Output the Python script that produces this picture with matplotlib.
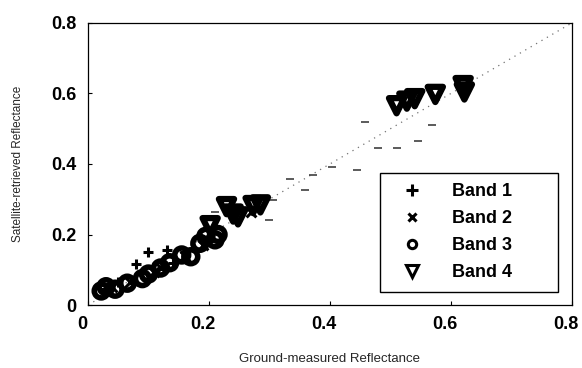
import matplotlib
matplotlib.use("Agg")
import matplotlib.pyplot as plt
import matplotlib.transforms as mtransforms
from matplotlib.lines import Line2D

# Band 1 (+)
b1_ground = [0.03, 0.05, 0.08, 0.10, 0.13, 0.14, 0.16]
b1_sat = [0.045, 0.065, 0.115, 0.150, 0.155, 0.120, 0.150]
# Band 2 (x)
b2_ground = [0.04, 0.07, 0.11, 0.12, 0.16, 0.19, 0.27]
b2_sat = [0.050, 0.065, 0.095, 0.105, 0.140, 0.170, 0.265]
# Band 3 (o)
b3_ground = [0.022, 0.030, 0.045, 0.065, 0.090, 0.100, 0.120, 0.135,
             0.155, 0.170, 0.185, 0.195, 0.210, 0.215]
b3_sat = [0.040, 0.052, 0.045, 0.062, 0.075, 0.088, 0.105, 0.120,
          0.142, 0.137, 0.175, 0.195, 0.185, 0.200]
# Band 4 (triangles)
b4_ground = [0.202, 0.229, 0.240, 0.248, 0.273, 0.285, 0.510, 0.527,
             0.540, 0.574, 0.620, 0.622]
b4_sat = [0.225, 0.279, 0.258, 0.250, 0.282, 0.284, 0.565, 0.578,
          0.585, 0.597, 0.622, 0.604]
# faded (poorly reproduced) points
faded_ground = [0.21, 0.30, 0.306, 0.334, 0.359, 0.372, 0.403, 0.444,
                0.458, 0.48, 0.51, 0.546, 0.568]
faded_sat = [0.265, 0.241, 0.298, 0.357, 0.326, 0.369, 0.390, 0.383,
             0.520, 0.444, 0.444, 0.466, 0.510]

band_names = ["Band 1", "Band 2", "Band 3", "Band 4"]
ticks = [0, 0.2, 0.4, 0.6, 0.8]
tick_labels = ["0", "0.2", "0.4", "0.6", "0.8"]

fig = plt.figure(figsize=(5.82, 3.68), dpi=100)
ax = fig.add_axes([0.151, 0.171, 0.832, 0.767])

# 1:1 line
ax.plot([0, 0.8], [0, 0.8], linestyle=(0, (1, 4)), color="0.45", lw=0.9, zorder=1)

ax.scatter(faded_ground, faded_sat, marker="_", s=40, color="0.25",
           linewidths=1.2, zorder=2)
ax.scatter(b1_ground, b1_sat, marker="+", s=60, color="black",
           linewidths=2.2, zorder=3)
ax.scatter(b2_ground, b2_sat, marker="x", s=50, color="black",
           linewidths=2.2, zorder=3)
ax.scatter(b3_ground, b3_sat, marker="o", s=100, facecolors="none",
           edgecolors="black", linewidths=4, zorder=3)
ax.scatter(b4_ground, b4_sat, marker="v", s=120, facecolors="none",
           edgecolors="black", linewidths=4.5, zorder=3)

ax.set_xlim(0, 0.8)
ax.set_ylim(0, 0.8)
ax.set_xticks(ticks)
ax.set_xticklabels(tick_labels)
ax.set_yticks(ticks)
ax.set_yticklabels(tick_labels)
ax.tick_params(direction="in", length=3, width=0.8, labelsize=13)
ax.tick_params(axis="x", pad=8)
ax.tick_params(axis="y", pad=8)
shift = mtransforms.ScaledTranslation(-6 / 100, 0, fig.dpi_scale_trans)
for lab in ax.get_xticklabels():
    lab.set_transform(lab.get_transform() + shift)
for lab in ax.get_xticklabels() + ax.get_yticklabels():
    lab.set_fontweight("bold")
    lab.set_family("Liberation Sans")
for sp in ax.spines.values():
    sp.set_linewidth(0.9)

ax.set_xlabel("Ground-measured Reflectance", fontsize=9.5, family="Liberation Sans",
              color="0.15", labelpad=14)
ax.set_ylabel("Satellite-retrieved Reflectance", fontsize=8.5, family="Liberation Sans",
              color="0.15", labelpad=20)

handles = [
    Line2D([], [], ls="none", marker="+", ms=9, mew=2.2, color="black"),
    Line2D([], [], ls="none", marker="x", ms=6, mew=2.2, color="black"),
    Line2D([], [], ls="none", marker="o", ms=6, mew=2.2, mfc="none", color="black"),
    Line2D([], [], ls="none", marker="v", ms=8, mew=2.2, mfc="none", color="black"),
]
# trailing spaces widen the box on the right like the original
leg = ax.legend(handles, [n + "       " for n in band_names], loc="lower right",
                bbox_to_anchor=(0.971, 0.046), fancybox=False,
                edgecolor="black", framealpha=1,
                handlelength=2.3, handletextpad=1.1, borderpad=0.6,
                labelspacing=0.55, borderaxespad=0,
                prop={"family": "Liberation Sans", "weight": "bold", "size": 13})
leg.get_frame().set_linewidth(1.0)

fig.savefig("out.png", dpi=100)
